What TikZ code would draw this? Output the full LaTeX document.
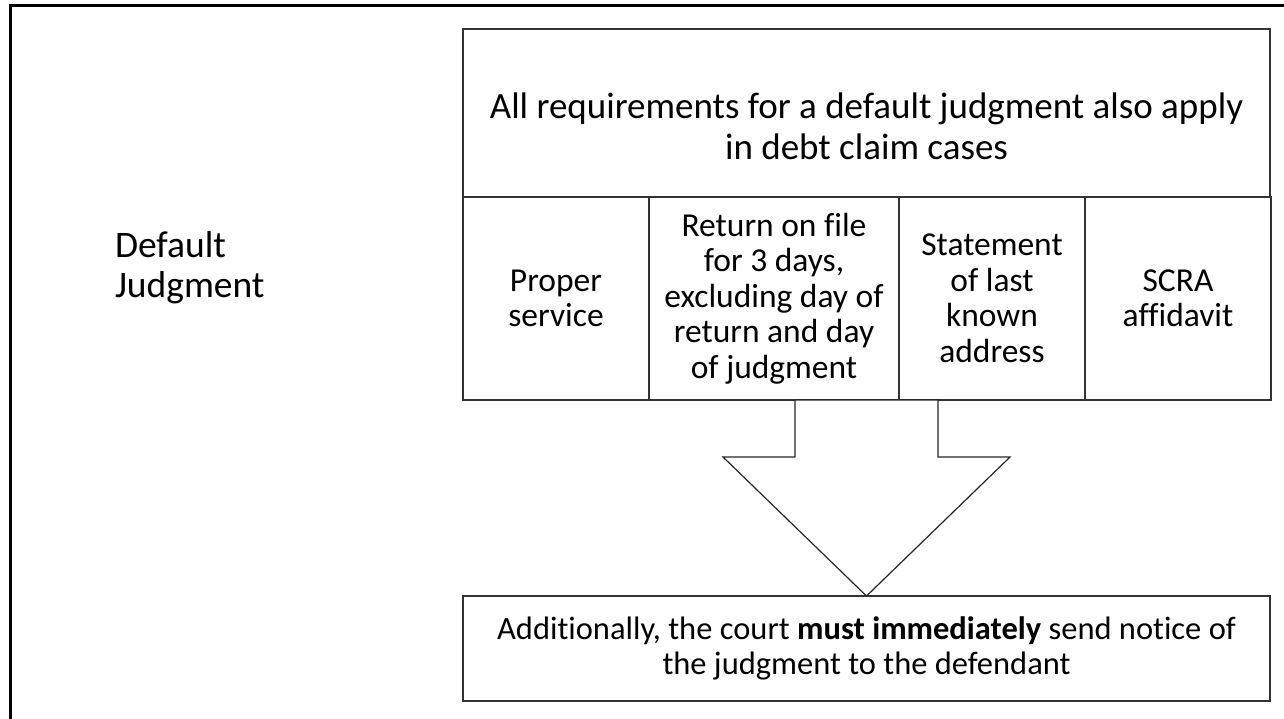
\documentclass[tikz,border=0pt]{standalone}
\usepackage{fontspec}
\setmainfont{Carlito}[Ligatures=NoCommon]
\usepackage{tikz}
\usetikzlibrary{arrows}
\usetikzlibrary{positioning}
\tikzstyle{every node}+=[inner sep=0pt, outer sep=0pt]
\tikzstyle{header} = [rectangle, draw=black!80, line width=1.2pt, minimum width=807pt, minimum height=168pt]
\tikzstyle{headtext} = [align=center, font=\fontsize{37}{41}\selectfont, yshift=-13pt]
\tikzstyle{block} = [rectangle, draw=black!80, line width=1.5pt, align=center, minimum height=203pt, minimum width=186pt, font=\fontsize{33.5}{35.5}\selectfont]
\tikzstyle{notice} = [rectangle, draw=black!80, line width=1.5pt, align=center, minimum width=807pt, minimum height=105pt, font=\fontsize{32.5}{35.5}\selectfont]
\tikzstyle{title} = [align=left, font=\fontsize{37.5}{40}\selectfont]
\tikzstyle{bigarrow} = [draw=black!85, line width=1.2pt, fill=white, line join=miter]

\begin{document}
\begin{tikzpicture}[x=1pt, y=-1pt]
            \useasboundingbox (0,0) rectangle (1284,719);
            % Slide frame
            \draw [line width=3pt] (10,719) -- (10,6) -- (1284,6);
            % Place nodes
            \node [title, anchor=west] (title) at (115,268) {Default\\Judgment};
            \node [header, label={[headtext, name=reqtext]center:All requirements for a default judgment also apply\\in debt claim cases}] (req) at (866.5,113) {};
            \node [block, anchor=north west] (proper) at (463,197) {Proper\\service};
            \node [block, right=0pt of proper, minimum width=250pt] (return) {Return on file\\for 3 days,\\excluding day of\\return and day\\of judgment};
            \node [block, right=0pt of return] (address) {Statement\\of last\\known\\address};
            \node [block, right=0pt of address] (scra) {SCRA\\affidavit};
            \node [notice] (notice) at (866.5,648.5) {Additionally, the court \textbf{must immediately} send notice of\\the judgment to the defendant};
            % Draw arrow
            \draw [bigarrow] (notice.north) -- ++(-143.5,-139) -- ++(72,0) -- ++(0,-57) -- ++(143,0) -- ++(0,57) -- ++(72,0) -- cycle;
          \end{tikzpicture}
\end{document}
